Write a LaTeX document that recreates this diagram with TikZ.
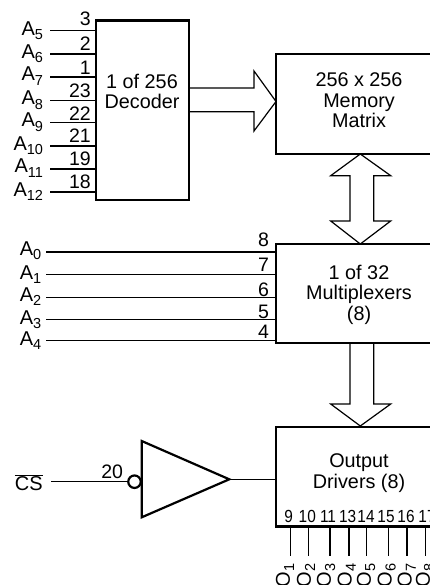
\documentclass[tikz,border=0pt]{standalone}
\usepackage{fontspec}
\setmainfont{Liberation Sans}
\newcommand{\sbs}[1]{\raisebox{-4.2pt}{\fontsize{14.5}{14.5}\selectfont #1}}
\tikzset{
  box/.style={draw=black,line width=2.2pt,fill=white,inner sep=0pt,outer sep=0pt,anchor=north west},
  wire/.style={draw=black,line width=1.2pt},
  bigarrow/.style={draw=black,line width=1.2pt,line join=miter},
  title/.style={inner sep=0pt,outer sep=0pt,align=center,font=\fontsize{19.8}{20.4}\selectfont},
  pin/.style={inner sep=0pt,outer sep=0pt,anchor=base east,font=\fontsize{19.5}{20}\selectfont},
  sig/.style={inner sep=0pt,outer sep=0pt,anchor=base east,font=\fontsize{20}{20}\selectfont},
  opin/.style={inner sep=0pt,outer sep=0pt,anchor=base,font=\fontsize{17.5}{17.5}\selectfont},
  osig/.style={inner sep=0pt,outer sep=0pt,anchor=west,rotate=90,font=\fontsize{20}{20}\selectfont}
}
\begin{document}
\begin{tikzpicture}[x=1pt,y=-1pt]
\useasboundingbox (0,0) rectangle (430,585);
% blocks
\node[box,minimum width=93pt,minimum height=179.5pt] (dec) at (96,20.5) {};
\node[box,minimum width=170pt,minimum height=100pt] (mem) at (276,54) {};
\node[box,minimum width=170pt,minimum height=99pt] (mux) at (276,244) {};
\node[box,minimum width=170pt,minimum height=99.5pt] (out) at (276,427) {};
\node[title] (dect) at (142,91.5) {1 of 256\\Decoder};
\node[title] (memt) at (359,100.5) {256 x 256\\Memory\\Matrix};
\node[title] (muxt) at (359,294.5) {1 of 32\\Multiplexers\\(8)};
\node[title] (outt) at (359,473) {Output\\Drivers (8)};
% decoder inputs
\foreach \n/\lab/\num/\wy/\ly/\py in {
  a/5/3/30.5/35.5/26, b/6/2/54/58.5/50.7, c/7/1/77/81/75, d/8/23/100.5/105/97.3,
  e/9/22/122.5/127/120.7, f/10/21/146/150.7/143, g/11/19/169/173/166, h/12/18/192/196.7/189}{
  \node[sig] (s\n) at (43,\ly) {A\sbs{\lab}};
  \node[pin] (p\n) at (90.7,\py) {\num};
  \coordinate (w\n) at (50,\wy);
  \draw[wire] (w\n) -- (w\n -| dec.west);
}
% multiplexer inputs
\foreach \n/\lab/\num/\wy/\ly/\py in {
  i/0/8/252/255/246.7, j/1/7/274.7/279.3/271.7, k/2/6/297.5/301.7/296,
  l/3/5/319.5/324/318, m/4/4/340.5/345/338}{
  \node[sig] (s\n) at (41.3,\ly) {A\sbs{\lab}};
  \node[pin] (p\n) at (269,\py) {\num};
  \coordinate (w\n) at (46,\wy);
  \draw[wire] (w\n) -- (w\n -| mux.west);
}
% wide arrows
\coordinate (t1) at (276,101.5);
\draw[bigarrow] (dec.east |- 0,88) -- (254,88) -- (254,71) -- (t1) -- (254,131) -- (254,111.7) -- (dec.east |- 0,111.7);
\coordinate (t2) at (360.3,154);
\coordinate (t3) at (360.3,244);
\draw[bigarrow] (t2) -- (390.7,175.7) -- (373.7,175.7) -- (373.7,221) -- (390.7,221) -- (t3) -- (330.7,221) -- (350,221) -- (350,175.7) -- (330.7,175.7) -- cycle;
\coordinate (t4) at (360.3,426);
\draw[bigarrow] (350,343) -- (350,404) -- (330.7,404) -- (t4) -- (390.7,404) -- (373.7,404) -- (373.7,343);
% chip select
\coordinate (bufa) at (141.7,441);
\coordinate (bufb) at (141.7,517.3);
\coordinate (bufc) at (229.3,479.3);
\draw[line width=2.2pt,fill=white,line join=miter] (bufa) -- (bufc) -- (bufb) -- cycle;
\node[circle,draw=black,line width=2.2pt,fill=white,minimum size=12.5pt,inner sep=0pt,outer sep=0pt] (bub) at (134.5,481.7) {};
\node[sig] (cs) at (42.7,490.7) {$\overline{\mbox{CS}}$};
\node[pin] (p20) at (123,478) {20};
\coordinate (wcs) at (51,481.3);
\draw[wire] (wcs) -- (bub.west |- wcs);
\draw[wire] (bufc) -- (bufc -| out.west);
% outputs
\foreach \n/\lab/\num/\lx/\nx/\ox in {
  1/1/9/290.7/288.7/285, 2/2/10/308.3/307.3/306, 3/3/11/330/328/326, 4/4/13/349/347.7/346.7,
  5/5/14/366.7/366/366, 6/6/15/388.3/386/386.7, 7/7/16/407/406/406.7, 8/8/17/425.7/427/425}{
  \node[opin] (op\n) at (\nx,522) {\scalebox{0.88}[1]{\num}};
  \coordinate (ow\n) at (\lx,555.7);
  \draw[wire] (\lx,526.5) -- (ow\n);
  \node[osig] (os\n) at (\ox,587.5) {O\sbs{\lab}};
}
\end{tikzpicture}
\end{document}
